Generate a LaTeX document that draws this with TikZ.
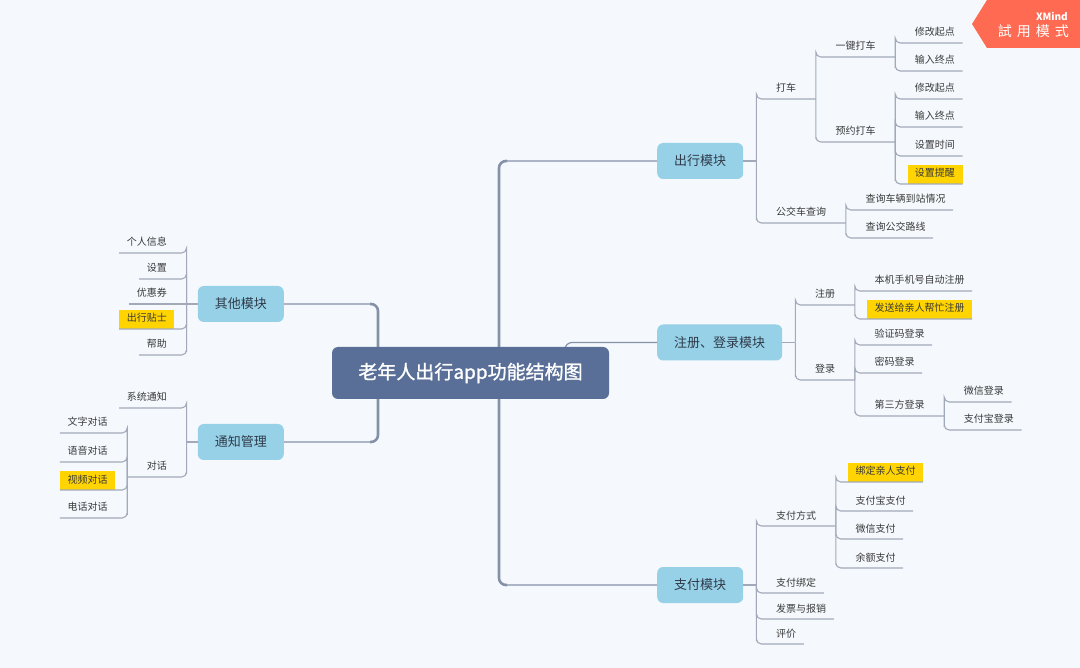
\documentclass[tikz,border=0pt]{standalone}
\usepackage{fontspec}
\newfontfamily\cjk{Noto Sans CJK SC}
\newfontfamily\cjkmed[FakeBold=1.2]{Noto Sans CJK SC}
\usetikzlibrary{calc}
\definecolor{bgc}{HTML}{F5F9FD}
\definecolor{cenc}{HTML}{5A6F97}
\definecolor{brc}{HTML}{97D1E7}
\definecolor{brtxt}{HTML}{2F3B4A}
\definecolor{txt}{HTML}{3A3A3A}
\definecolor{connc}{HTML}{A2AABA}
\definecolor{trunkc}{HTML}{8591A7}
\definecolor{hlc}{HTML}{FFD400}
\definecolor{badgec}{HTML}{FF6A52}
\pgfdeclarelayer{bg}\pgfdeclarelayer{hlay}
\pgfsetlayers{bg,hlay,main}
\tikzset{
  lf/.style={font=\cjk\fontsize{10}{12}\selectfont, text=txt, inner sep=0pt, text height=8.5pt, text depth=1.5pt},
  conn/.style={draw=connc, line width=1.1pt, rounded corners=5pt},
  trunkthin/.style={draw=trunkc, line width=1.2pt, rounded corners=7pt},
  trunkthick/.style={draw=trunkc, line width=2.6pt, rounded corners=7pt},
  br/.style={fill=brc, rounded corners=6pt, minimum height=36pt, inner xsep=17pt, inner ysep=0pt, font=\cjk\fontsize{13}{15}\selectfont, text=brtxt},
  central/.style={fill=cenc, rounded corners=6pt, minimum width=277pt, minimum height=52pt, text=white, font=\cjkmed\fontsize{19}{22}\selectfont},
}
\newcommand\RN[5]{%
  \coordinate (#1-s) at (#2 |- 0,#3);
  \node[lf,anchor=west] (#1) at ($(#1-s)+(19.5,-10.5)$) {#5};
  \coordinate (#1-e) at ($(#1.east |- #1-s)+(#4,0)$);
  \draw[conn] (#2) |- (#1-s) -- (#1-e);
}
\newcommand\LN[5]{%
  \coordinate (#1-s) at (#2 |- 0,#3);
  \node[lf,anchor=east] (#1) at ($(#1-s)+(-19.5,-10.5)$) {#5};
  \coordinate (#1-e) at ($(#1.west |- #1-s)+(-#4,0)$);
  \draw[conn] (#2) |- (#1-s) -- (#1-e);
}
\newcommand\LNs[5]{%
  \coordinate (#1-s) at (#2 |- 0,#3);
  \node[lf,anchor=east] (#1) at ($(#1-s)+(-19.5,-10.5)$) {#5};
  \coordinate (#1-e) at ($(#1.west |- #1-s)+(-#4,0)$);
  \draw[conn] (#2) -- (#1-e);
}
\newcommand\HLR[1]{\begin{pgfonlayer}{hlay}\fill[hlc] ($(#1.west |- #1-s)+(-7,-19)$) rectangle (#1-e);\end{pgfonlayer}}
\newcommand\HLL[1]{\begin{pgfonlayer}{hlay}\fill[hlc] ($(#1.east |- #1-s)+(7,-19)$) rectangle (#1-e);\end{pgfonlayer}}
\begin{document}
\begin{tikzpicture}[x=1pt,y=-1pt]
\begin{pgfonlayer}{bg}
\fill[bgc] (0,0) rectangle (1080,668);
\end{pgfonlayer}
\useasboundingbox (0,0) rectangle (1080,668);

% main branch nodes
\node[br,anchor=west] (cx) at (657,161) {出行模块};
\node[br,anchor=west] (zd) at (657,342.5) {注册、登录模块};
\node[br,anchor=west] (zp) at (657,585) {支付模块};
\node[br,anchor=east] (qt) at (284,304) {其他模块};
\node[br,anchor=east] (tz) at (284,442) {通知管理};

% trunks
\coordinate (rtr) at (499,373);
\coordinate (rtr2) at (565,373);
\coordinate (ltr) at (378,373);
\coordinate (rk1) at (507,161);
\coordinate (rk2) at (507,585);
\coordinate (lk1) at (370,304);
\coordinate (lk2) at (370,442);
\draw[trunkthin] (rtr) |- (cx.west);
\draw[trunkthin] (rtr) |- (zp.west);
\draw[trunkthick] (rtr) |- (rk1);
\draw[trunkthick] (rtr) |- (rk2);
\draw[trunkthin] (rtr2) |- (zd.west);
\draw[trunkthin] (ltr) |- (qt.east);
\draw[trunkthin] (ltr) |- (tz.east);
\draw[trunkthick] (ltr) |- (lk1);
\draw[trunkthick] (ltr) |- (lk2);

\node[central] (root) at (470.5,373) {老年人出行app功能结构图};

% junctions
\coordinate (j1) at ($(cx.east)+(13,0)$);
\coordinate (j2) at ($(zd.east)+(13,0)$);
\coordinate (j3) at ($(zp.east)+(13,0)$);
\coordinate (j4) at ($(qt.west)+(-11,0)$);
\coordinate (j5) at ($(tz.west)+(-11,0)$);
\draw[conn] (cx.east) -- (j1);
\draw[conn] (zd.east) -- (j2);
\draw[conn] (zp.east) -- (j3);
\draw[conn] (qt.west) -- (j4);
\draw[conn] (tz.west) -- (j5);

% 出行模块
\RN{dc}{j1}{99}{19.5}{打车}
\RN{yj}{dc-e}{57}{19.5}{一键打车}
\RN{a1}{yj-e}{43}{7.5}{修改起点}
\RN{a2}{yj-e}{71}{7.5}{输入终点}
\RN{yy}{dc-e}{142}{19.5}{预约打车}
\RN{b1}{yy-e}{99}{7.5}{修改起点}
\RN{b2}{yy-e}{127}{7.5}{输入终点}
\RN{b3}{yy-e}{156}{7.5}{设置时间}
\RN{b4}{yy-e}{184}{7.5}{设置提醒}\HLR{b4}
\RN{gj}{j1}{223}{19.5}{公交车查询}
\RN{c1}{gj-e}{210}{7.5}{查询车辆到站情况}
\RN{c2}{gj-e}{238}{7.5}{查询公交路线}

% 注册、登录模块
\RN{zc}{j2}{305}{19.5}{注册}
\RN{d1}{zc-e}{291}{7.5}{本机手机号自动注册}
\RN{d2}{zc-e}{319}{7.5}{发送给亲人帮忙注册}\HLR{d2}
\RN{dl}{j2}{380}{19.5}{登录}
\RN{e1}{dl-e}{345}{7.5}{验证码登录}
\RN{e2}{dl-e}{373}{7.5}{密码登录}
\RN{e3}{dl-e}{416}{19.5}{第三方登录}
\RN{f1}{e3-e}{402}{7.5}{微信登录}
\RN{f2}{e3-e}{430}{7.5}{支付宝登录}

% 支付模块
\RN{zf}{j3}{526}{19.5}{支付方式}
\RN{g1}{zf-e}{482}{7.5}{绑定亲人支付}\HLR{g1}
\RN{g2}{zf-e}{511}{7.5}{支付宝支付}
\RN{g3}{zf-e}{539}{7.5}{微信支付}
\RN{g4}{zf-e}{568}{7.5}{余额支付}
\RN{h1}{j3}{593}{7.5}{支付绑定}
\RN{h2}{j3}{619}{7.5}{发票与报销}
\RN{h3}{j3}{644}{7.5}{评价}

% 其他模块
\LN{k1}{j4}{253}{7.5}{个人信息}
\LN{k2}{j4}{279}{7.5}{设置}
\LNs{k3}{j4}{304}{7.5}{优惠券}
\LN{k4}{j4}{329}{7.5}{出行贴士}\HLL{k4}
\LN{k5}{j4}{355}{7.5}{帮助}

% 通知管理
\LN{m1}{j5}{408}{7.5}{系统通知}
\LN{m2}{j5}{477}{19.5}{对话}
\LN{n1}{m2-e}{433}{7.5}{文字对话}
\LN{n2}{m2-e}{462}{7.5}{语音对话}
\LN{n3}{m2-e}{490}{7.5}{视频对话}\HLL{n3}
\LN{n4}{m2-e}{518}{7.5}{电话对话}

% badge
\fill[badgec] (987,0) -- (1080,0) -- (1080,48) -- (987,48) -- (972,24) -- cycle;
\node[anchor=east, text=white, inner sep=0pt, font=\cjk\bfseries\fontsize{10}{12}\selectfont] (xm) at (1068,16) {XMind};
\node[anchor=east, text=white, inner sep=0pt, font=\cjk\fontsize{14}{16}\selectfont] (sy) at (1069,31) {試\hspace{5pt}用\hspace{5pt}模\hspace{5pt}式};
\end{tikzpicture}
\end{document}
